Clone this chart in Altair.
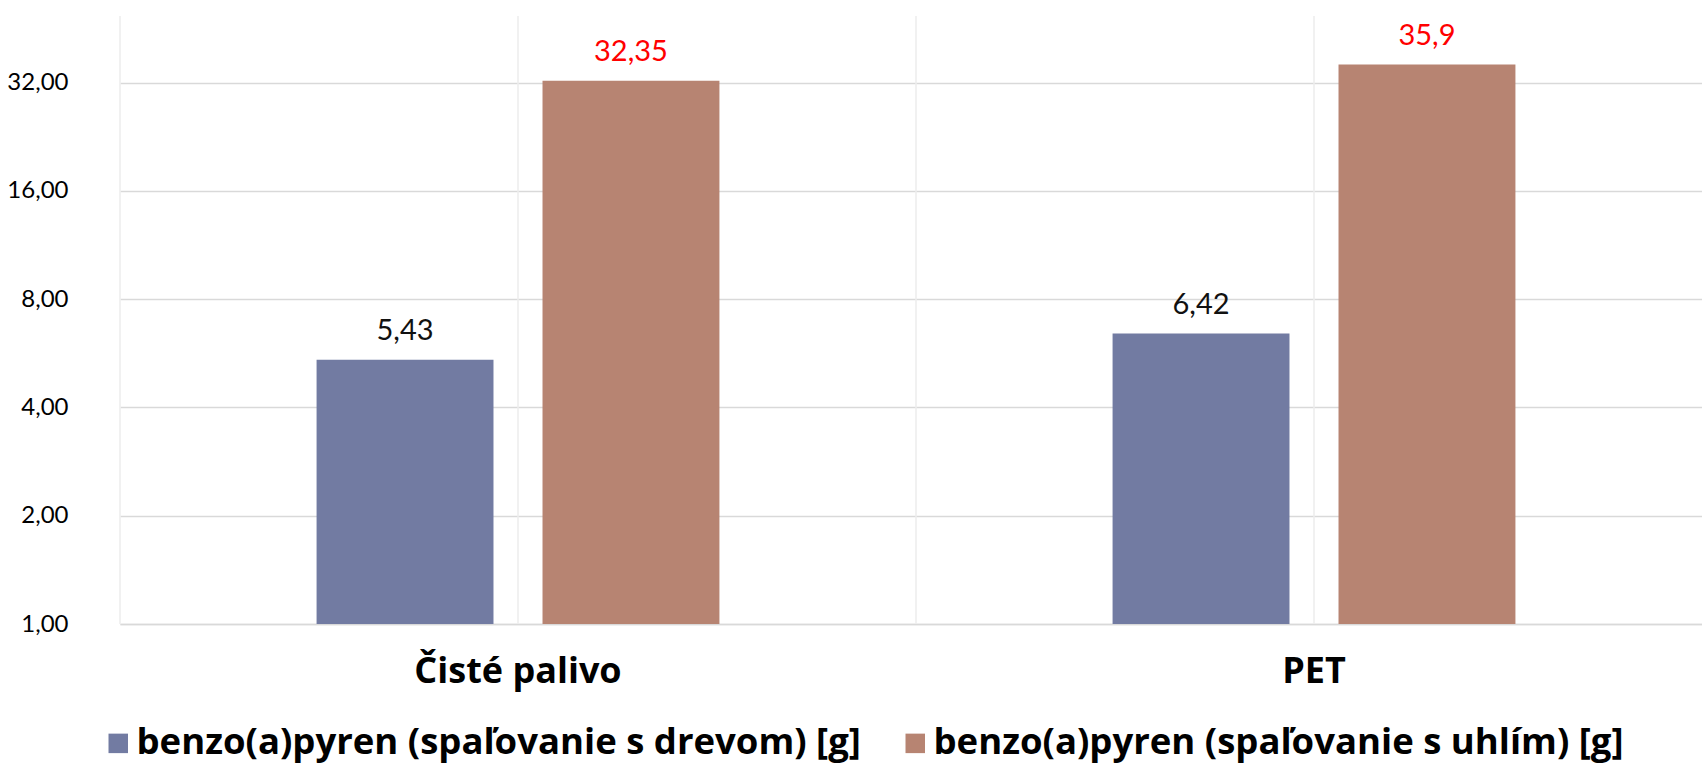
import altair as alt
import pandas as pd

# Emissions of benzo(a)pyrene by fuel type, two combustion scenarios
categories = ["Čisté palivo", "PET"]
series = [
    "benzo(a)pyren (spaľovanie s drevom) [g]",
    "benzo(a)pyren (spaľovanie s uhlím) [g]",
]
wood_values = [5.43, 6.42]
coal_values = [32.35, 35.9]
y_ticks = [1, 2, 4, 8, 16, 32]

bar_colors = ["#727BA2", "#B78472"]
label_colors = ["#111111", "#FF0000"]

rows = []
for cat, w, c in zip(categories, wood_values, coal_values):
    rows.append({"kategoria": cat, "seria": series[0], "hodnota": w})
    rows.append({"kategoria": cat, "seria": series[1], "hodnota": c})
df = pd.DataFrame(rows)
df["popis"] = df["hodnota"].map(lambda v: f"{v}".replace(".", ","))

cats_df = pd.DataFrame({"kategoria": categories})

FONT = "Lato"
BOLD_FONT = "Open Sans"

# the category axis runs slightly past the right edge of the drawing
x_scale = alt.Scale(paddingInner=0, paddingOuter=0, range=[0, 1592])

x_enc = alt.X(
    "kategoria:N",
    sort=categories,
    scale=x_scale,
    axis=alt.Axis(
        title=None,
        labelAngle=0,
        labelAlign="center",
        labelFont=BOLD_FONT,
        labelFontSize=36,
        labelFontWeight="bold",
        labelColor="#000000",
        labelPadding=47,
        labelLimit=0,
        ticks=False,
        grid=False,
        domain=True,
        domainColor="#d9d9d9",
        domainWidth=1.5,
    ),
)
y_scale = alt.Scale(type="log", base=2, domain=[1, 49], nice=False)
y_axis = alt.Axis(
    title=None,
    values=y_ticks,
    labelExpr="replace(format(datum.value, '.2f'), '.', ',')",
    labelFont=FONT,
    labelFontSize=24,
    labelColor="#000000",
    labelPadding=52,
    ticks=False,
    domain=False,
    gridColor="#d9d9d9",
    gridWidth=1.5,
)
offset_enc = alt.XOffset(
    "seria:N",
    sort=series,
    scale=alt.Scale(paddingInner=0.217, paddingOuter=0.87),
)

# vertical gridlines at band edges and band centres
edge_rules = alt.Chart(cats_df).mark_rule(color="#ececec", strokeWidth=1.5).encode(
    x=alt.X("kategoria:N", sort=categories, bandPosition=0)
)
centre_rules = alt.Chart(cats_df).mark_rule(color="#ececec", strokeWidth=1.5).encode(
    x=alt.X("kategoria:N", sort=categories, bandPosition=0.5)
)

bars = alt.Chart(df).mark_bar().encode(
    x=x_enc,
    xOffset=offset_enc,
    y=alt.Y("hodnota:Q", scale=y_scale, axis=y_axis),
    y2=alt.datum(1),
    color=alt.Color(
        "seria:N",
        sort=series,
        scale=alt.Scale(domain=series, range=bar_colors),
        legend=alt.Legend(
            title=None,
            orient="none",
            legendX=-20,
            legendY=709,
            direction="horizontal",
            symbolType="square",
            symbolSize=380,
            symbolStrokeWidth=0,
            labelFont=BOLD_FONT,
            labelFontSize=36.5,
            labelFontWeight="bold",
            labelColor="#000000",
            labelLimit=0,
            labelOffset=0,
            columnPadding=36,
        ),
    ),
)

labels = alt.Chart(df).mark_text(
    baseline="bottom", dy=-14, font=FONT, fontSize=29
).encode(
    x=alt.X("kategoria:N", sort=categories),
    xOffset=offset_enc,
    y=alt.Y("hodnota:Q", scale=y_scale),
    text="popis:N",
    color=alt.Color(
        "seria:N",
        sort=series,
        scale=alt.Scale(domain=series, range=label_colors),
        legend=None,
    ),
)

chart = (
    alt.layer(edge_rules, centre_rules, bars, labels)
    .resolve_scale(color="independent")
    .properties(
        width=1579,
        height=608,
        autosize=alt.AutoSizeParams(type="none"),
        padding={"left": 120, "top": 16, "right": 3, "bottom": 143},
        background="white",
    )
    .configure_view(stroke=None)
)

chart.save("out.html", embed_options={"renderer": "svg", "actions": False})
